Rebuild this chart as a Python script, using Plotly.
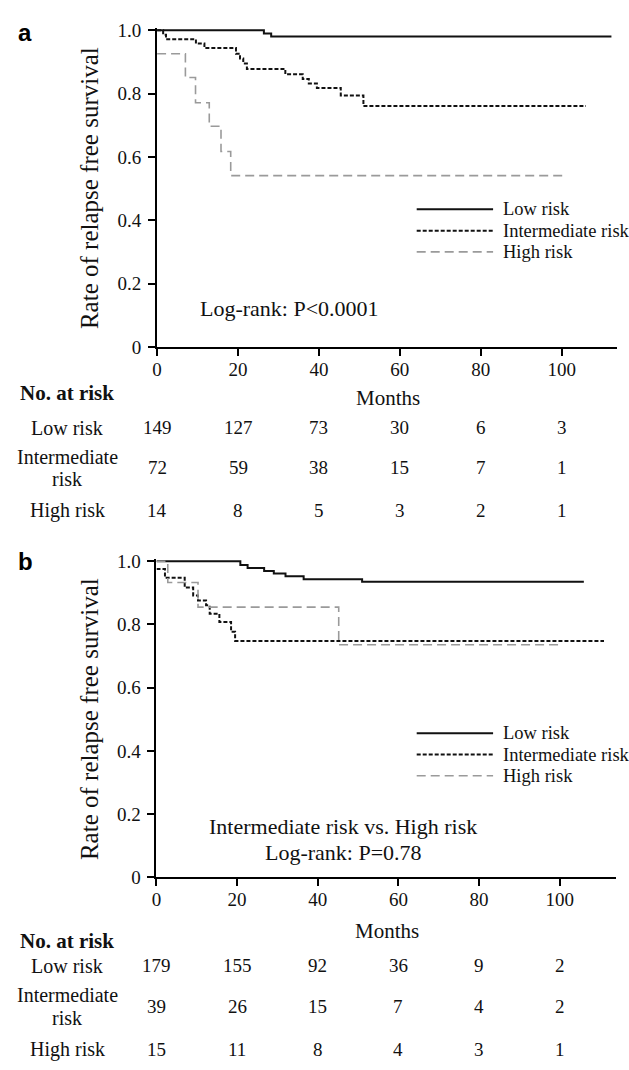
import plotly.graph_objects as go

W, H = 629, 1070


def px(x):
    return x / W


def py(y):
    return 1 - y / H


# ---------------- data ----------------
months_ticks = [0, 20, 40, 60, 80, 100]
surv_ticks = [0, 0.2, 0.4, 0.6, 0.8, 1.0]
surv_ticktext = ["0", "0.2", "0.4", "0.6", "0.8", "1.0"]
groups = ["Low risk", "Intermediate risk", "High risk"]

# Panel a – Kaplan-Meier step curves (months, survival)
a_low_t = [0, 26.4, 28.2, 112.3]
a_low_s = [1.0, 0.99, 0.98, 0.98]
a_int_t = [0, 1.5, 2.2, 9.6, 11.7, 19.5, 20.5, 21.3, 22.2, 31.7, 36.0, 37.5, 39.5, 45.4, 51.0, 106.0]
a_int_s = [1.0, 0.986, 0.972, 0.958, 0.944, 0.926, 0.911, 0.895, 0.878, 0.861, 0.846, 0.832, 0.818, 0.794, 0.761, 0.761]
a_high_t = [0, 7.0, 9.5, 12.9, 15.8, 18.2, 101.2]
a_high_s = [0.926, 0.851, 0.771, 0.697, 0.617, 0.541, 0.541]

# Panel b
b_low_t = [0, 20.8, 22.6, 26.7, 29.1, 32.0, 36.5, 51.0, 106.0]
b_low_s = [1.0, 0.988, 0.979, 0.969, 0.961, 0.953, 0.943, 0.935, 0.935]
b_int_t = [0, 2.1, 7.0, 9.1, 10.3, 12.3, 13.2, 15.6, 18.5, 19.5, 111.0]
b_int_s = [0.976, 0.948, 0.917, 0.892, 0.876, 0.861, 0.834, 0.808, 0.777, 0.748, 0.748]
b_high_t = [0, 2.8, 10.3, 45.2, 100.7]
b_high_s = [1.0, 0.933, 0.855, 0.736, 0.736]

# Numbers at risk
a_risk_low = [149, 127, 73, 30, 6, 3]
a_risk_int = [72, 59, 38, 15, 7, 1]
a_risk_high = [14, 8, 5, 3, 2, 1]
b_risk_low = [179, 155, 92, 36, 9, 2]
b_risk_int = [39, 26, 15, 7, 4, 2]
b_risk_high = [15, 11, 8, 4, 3, 1]

a_test = "Log-rank: P<0.0001"
b_test = ["Intermediate risk vs. High risk", "Log-rank: P=0.78"]

# ---------------- styles ----------------
SERIF = "Liberation Serif, Times New Roman, serif"
SANS = "Liberation Sans, Arial, sans-serif"
styles = {
    "Low risk": dict(color="#111111", width=2, dash="solid"),
    "Intermediate risk": dict(color="#111111", width=2, dash="4px,2px"),
    "High risk": dict(color="#9a9a9a", width=1.6, dash="9px,5px"),
}

fig = go.Figure()

panel_a = [(a_low_t, a_low_s), (a_int_t, a_int_s), (a_high_t, a_high_s)]
panel_b = [(b_low_t, b_low_s), (b_int_t, b_int_s), (b_high_t, b_high_s)]

for (xa, ya), (xb, yb), name in zip(panel_a, panel_b, groups):
    fig.add_trace(go.Scatter(x=xa, y=ya, mode="lines", line_shape="hv", name=name,
                             line=styles[name], xaxis="x", yaxis="y", showlegend=False,
                             hoverinfo="skip"))
    fig.add_trace(go.Scatter(x=xb, y=yb, mode="lines", line_shape="hv", name=name,
                             line=styles[name], xaxis="x2", yaxis="y2", showlegend=False,
                             hoverinfo="skip"))

axis_common = dict(showline=True, linecolor="black", linewidth=2, ticks="outside",
                   ticklen=7, tickwidth=2, tickcolor="black", showgrid=False,
                   zeroline=False, tickfont=dict(family=SERIF, size=19, color="#111111"))

YTOP = 1.008
fig.update_layout(
    width=W, height=H, autosize=False,
    margin=dict(l=0, r=0, t=0, b=0),
    paper_bgcolor="white", plot_bgcolor="white",
    xaxis=dict(domain=[px(153.3), px(617)], range=[0, 113.7], anchor="y",
               tickvals=months_ticks, ticklabelstandoff=-3, **axis_common),
    yaxis=dict(domain=[py(345), py(345 - 322.3 * YTOP)], range=[0, YTOP], anchor="x",
               tickvals=surv_ticks, ticktext=surv_ticktext, ticklabelstandoff=3,
               **axis_common),
    xaxis2=dict(domain=[px(152.7), px(616)], range=[0, 114.0], anchor="y2",
                tickvals=months_ticks, ticklabelstandoff=-3, **axis_common),
    yaxis2=dict(domain=[py(885), py(885 - 321.7 * YTOP)], range=[0, YTOP], anchor="x2",
                tickvals=surv_ticks, ticktext=surv_ticktext, ticklabelstandoff=3,
                **axis_common),
)

ann = []


def text(t, x, y, size, xanchor="center", xref="paper", bold=False, family=SERIF,
         angle=0, color="#111111"):
    if bold:
        t = "<b>" + t + "</b>"
    ann.append(dict(text=t, x=x if xref != "paper" else px(x), y=py(y), xref=xref,
                    yref="paper", showarrow=False, xanchor=xanchor, yanchor="middle",
                    textangle=angle, font=dict(family=family, size=size, color=color)))


# panel letters
text("a", 11, 25, 24, xanchor="left", bold=True, family=SANS, color="black")
text("b", 11, 563, 24, xanchor="left", bold=True, family=SANS, color="black")

# y titles
text("Rate of relapse free survival", 85, 183, 25, angle=-90)
text("Rate of relapse free survival", 85, 723.6, 25, angle=-90)

# x titles
text("Months", 386, 397.3, 21)
text("Months", 385, 939.3, 21)

# test annotations
text(a_test, 286.5, 306, 22)
text(b_test[0], 341, 833, 22)
text(b_test[1], 341, 860, 22)

# legends
legend_rows = {"a": [205, 226.7, 248.3], "b": [738.3, 760, 781.7]}
shapes = []
for panel in ["a", "b"]:
    for name, yy in zip(groups, legend_rows[panel]):
        st = styles[name]
        shapes.append(dict(type="line", xref="paper", yref="paper",
                           x0=px(415), x1=px(492), y0=py(yy), y1=py(yy),
                           line=dict(color=st["color"], width=st["width"], dash=st["dash"])))
        text(name, 500, yy, 18.5, xanchor="left")

# number-at-risk tables
tables = {
    "a": dict(xref="x", head=391.7, rows=[427.3, 468.3, 511.7], lab=[427.3, (456.7, 480), 511.7],
              vals=[a_risk_low, a_risk_int, a_risk_high]),
    "b": dict(xref="x2", head=950, rows=[975, 1016.7, 1060], lab=[975, (1005, 1028.3), 1060],
              vals=[b_risk_low, b_risk_int, b_risk_high]),
}
for key, tb in tables.items():
    text("No. at risk", 13, tb["head"], 21, xanchor="left", bold=True)
    text("Low risk", 63, tb["lab"][0], 20)
    text("Intermediate", 63, tb["lab"][1][0], 20)
    text("risk", 63, tb["lab"][1][1], 20)
    text("High risk", 63, tb["lab"][2], 20)
    for vals, yy in zip(tb["vals"], tb["rows"]):
        for m, v in zip(months_ticks, vals):
            text(str(v), m, yy, 19, xref=tb["xref"])

fig.update_layout(annotations=ann, shapes=shapes)
fig.write_html(
    "out.html",
    config={"displayModeBar": False, "staticPlot": True},
    post_script="document.body.style.margin='0';document.body.style.padding='0';"
                "document.body.style.overflow='hidden';",
)
